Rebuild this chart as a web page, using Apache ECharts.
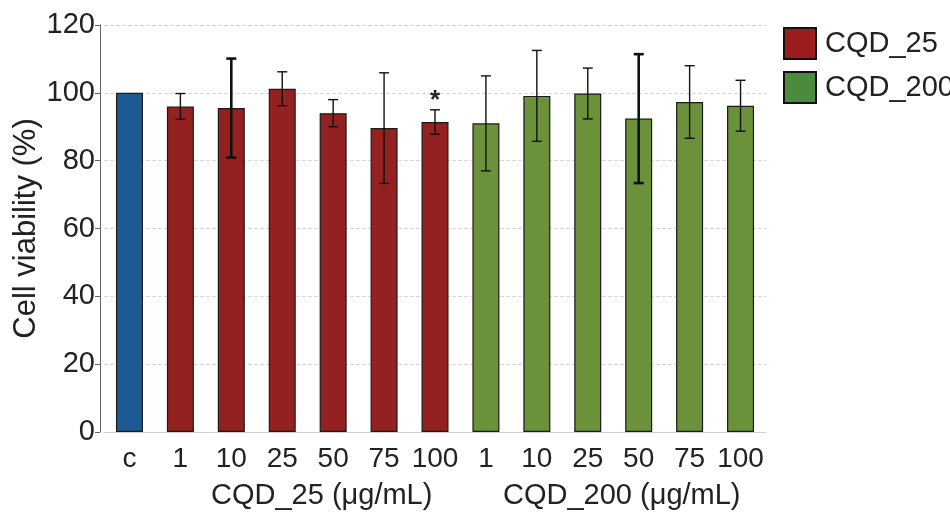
<!DOCTYPE html>
<html>
<head>
<meta charset="utf-8">
<script src="https://cdn.jsdelivr.net/npm/echarts@6/dist/echarts.min.js"></script>
<style>html,body{margin:0;padding:0;background:#fff;}#chart{width:950px;height:516px;}</style>
</head>
<body>
<div id="chart"></div>
<script>
// ---- data ----
const xLabels = ['c','1','10','25','50','75','100','1','10','25','50','75','100'];
const controlValues = [100];
const cqd25Values = [96.0, 95.5, 101.2, 94.0, 89.6, 91.4];
const cqd200Values = [91.0, 99.1, 99.8, 92.4, 97.3, 96.2];
const errorSD = [0, 3.8, 14.6, 5.0, 4.0, 16.3, 3.6, 14.0, 13.4, 7.5, 19.0, 10.7, 7.5];
const significance = ['', '', '', '', '', '', '*', '', '', '', '', '', ''];
const yTicks = [0, 20, 40, 60, 80, 100, 120];
const groupLabels = ['CQD_25 (\u03bcg/mL)', 'CQD_200 (\u03bcg/mL)'];
const legendNames = ['CQD_25', 'CQD_200'];

// ---- build ----
const cats = xLabels.map((l, i) => String(i));
const allValues = controlValues.concat(cqd25Values, cqd200Values);
const ctrlData = cats.map((c, i) => i < controlValues.length ? controlValues[i] : '-');
const c25Data = cats.map((c, i) => (i >= 1 && i <= 6) ? cqd25Values[i - 1] : '-');
const c200Data = cats.map((c, i) => (i >= 7) ? cqd200Values[i - 7] : '-');
const errData = allValues.map((v, i) => [i, v, errorSD[i], significance[i]]);
const thickErr = new Set([2, 10]);

const FONT = 'Liberation Sans, Arial, sans-serif';
const chart = echarts.init(document.getElementById('chart'));
const barStyle = (color) => ({ color: color, borderColor: '#1a1a1a', borderWidth: 1.2 });

chart.setOption({
  animation: false,
  textStyle: { fontFamily: FONT },
  grid: { left: 104, right: 184, top: 25, bottom: 84, containLabel: false, outerBoundsMode: 'none' },
  legend: {
    orient: 'vertical', left: 778, top: 22,
    itemWidth: 32, itemHeight: 31, itemGap: 11,
    icon: 'rect',
    textStyle: { fontSize: 29, color: '#222', fontFamily: FONT, padding: [0, 0, 0, 4] },
    data: [
      { name: legendNames[0], itemStyle: { color: '#9a1c1c', borderColor: '#111', borderWidth: 2 } },
      { name: legendNames[1], itemStyle: { color: '#4c8a3e', borderColor: '#111', borderWidth: 2 } }
    ]
  },
  xAxis: {
    type: 'category', data: cats,
    axisLine: { show: true, lineStyle: { color: '#cfcfcf', width: 1 } },
    axisTick: { show: false },
    axisLabel: { formatter: (v) => xLabels[+v], fontSize: 28, color: '#222', margin: 13, interval: 0, fontFamily: FONT }
  },
  yAxis: {
    type: 'value', min: yTicks[0], max: yTicks[yTicks.length - 1], interval: 20, offset: 4,
    name: 'Cell viability (%)', nameLocation: 'middle', nameGap: 58, nameRotate: 90, nameMoveOverlap: false,
    nameTextStyle: { fontSize: 31, color: '#222', fontFamily: FONT },
    axisLine: { show: true, lineStyle: { color: '#666', width: 1 } },
    axisTick: { show: true, inside: false, length: 5, lineStyle: { color: '#666' } },
    axisLabel: { fontSize: 29, color: '#222', margin: 5, fontFamily: FONT },
    splitLine: { show: true, lineStyle: { color: '#d8d8d8', type: 'dashed', width: 1 } }
  },
  series: [
    { name: 'control', type: 'bar', data: ctrlData, barWidth: 27, barGap: '-100%', itemStyle: barStyle('#1d5a93') },
    { name: legendNames[0], type: 'bar', data: c25Data, barWidth: 27, barGap: '-100%', itemStyle: barStyle('#922120') },
    { name: legendNames[1], type: 'bar', data: c200Data, barWidth: 27, barGap: '-100%', itemStyle: barStyle('#6b913a') },
    {
      name: 'err', type: 'custom', data: errData, z: 10,
      renderItem: function (params, api) {
        const idx = api.value(0), v = api.value(1), sd = api.value(2);
        const sig = errData[params.dataIndex][3];
        const children = [];
        if (sd > 0) {
          const top = api.coord([idx, v + sd]);
          const bot = api.coord([idx, v - sd]);
          const w = thickErr.has(idx) ? 2.6 : 1.4;
          const cap = 5;
          const st = { stroke: '#111', lineWidth: w };
          children.push({ type: 'line', shape: { x1: top[0], y1: top[1], x2: bot[0], y2: bot[1] }, style: st });
          children.push({ type: 'line', shape: { x1: top[0] - cap, y1: top[1], x2: top[0] + cap, y2: top[1] }, style: st });
          children.push({ type: 'line', shape: { x1: bot[0] - cap, y1: bot[1], x2: bot[0] + cap, y2: bot[1] }, style: st });
          if (sig) {
            children.push({ type: 'text', style: { text: sig, x: top[0], y: top[1] + 4, textAlign: 'center', textVerticalAlign: 'bottom', fontSize: 26, fontWeight: 'bold', fill: '#222', fontFamily: FONT } });
          }
        }
        return { type: 'group', children: children };
      }
    }
  ],
  graphic: [
    { type: 'text', left: 211, top: 481, style: { text: groupLabels[0], fontSize: 29, fill: '#222', fontFamily: FONT } },
    { type: 'text', left: 503, top: 481, style: { text: groupLabels[1], fontSize: 29, fill: '#222', fontFamily: FONT } }
  ]
});
</script>
</body>
</html>
